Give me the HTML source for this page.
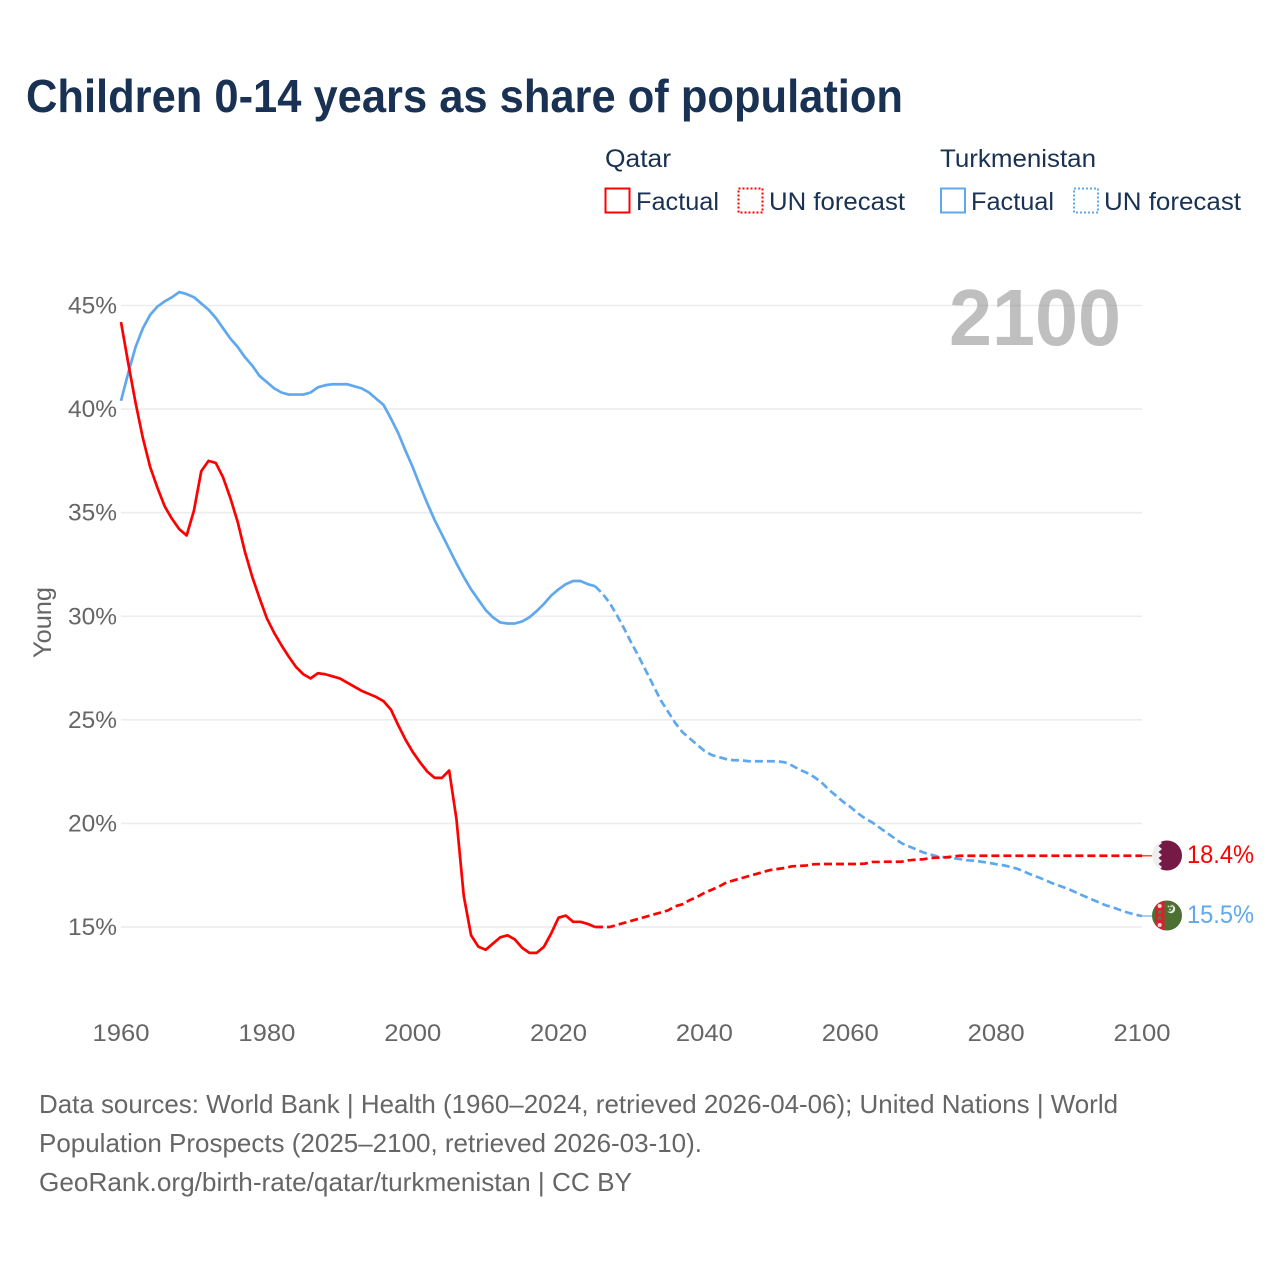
<!DOCTYPE html>
<html lang="en">
<head>
<meta charset="utf-8">
<title>Children 0-14 years as share of population</title>
<style>
html,body{margin:0;padding:0;background:#fff;}
svg{display:block;}
text{font-family:"Liberation Sans",sans-serif;}
</style>
</head>
<body>
<svg id="chart" width="1280" height="1280" viewBox="0 0 1280 1280" xmlns="http://www.w3.org/2000/svg">
  <rect width="1280" height="1280" fill="#ffffff"/>
  <text x="26" y="112" font-size="46" font-weight="700" fill="#193152" textLength="877" lengthAdjust="spacingAndGlyphs">Children 0-14 years as share of population</text>

  <g font-size="25" fill="#193152">
    <text x="605" y="167" textLength="66" lengthAdjust="spacingAndGlyphs">Qatar</text>
    <rect x="605.5" y="188.5" width="24" height="24" fill="none" stroke="#ff0000" stroke-width="2"/>
    <text x="636" y="210" textLength="83" lengthAdjust="spacingAndGlyphs">Factual</text>
    <rect x="738.5" y="188.5" width="24" height="24" fill="none" stroke="#ff0000" stroke-width="2" stroke-dasharray="2 2"/>
    <text x="769" y="210" textLength="136" lengthAdjust="spacingAndGlyphs">UN forecast</text>
    <text x="940" y="167" textLength="156" lengthAdjust="spacingAndGlyphs">Turkmenistan</text>
    <rect x="941" y="188.5" width="24" height="24" fill="none" stroke="#60a8ee" stroke-width="2"/>
    <text x="971" y="210" textLength="83" lengthAdjust="spacingAndGlyphs">Factual</text>
    <rect x="1074" y="188.5" width="24" height="24" fill="none" stroke="#60a8ee" stroke-width="2" stroke-dasharray="2 2"/>
    <text x="1104" y="210" textLength="137" lengthAdjust="spacingAndGlyphs">UN forecast</text>
  </g>

  <g id="grid"></g>
  <g id="y-labels"></g>
  <g id="x-labels"></g>

  <text transform="translate(51,622.5) rotate(-90)" text-anchor="middle" font-size="25" fill="#666666" textLength="71" lengthAdjust="spacingAndGlyphs">Young</text>
  <text x="949" y="345" font-size="80" font-weight="700" fill="#808080" fill-opacity="0.5" textLength="172" lengthAdjust="spacingAndGlyphs">2100</text>

  <g id="series"></g>

  <defs>
    <clipPath id="flag-clip-qatar"><circle cx="1167" cy="855.5" r="15"/></clipPath>
    <clipPath id="flag-clip-turkmenistan"><circle cx="1167" cy="915.5" r="15"/></clipPath>
  </defs>

  <g clip-path="url(#flag-clip-qatar)">
    <rect x="1152" y="840" width="30" height="31" fill="#eeeeee"/>
    <polygon points="1182,840 1158.5,840 1162,843 1158.5,846 1162,849 1158.5,852 1162,855 1158.5,858 1162,861 1158.5,864 1162,867 1158.5,871 1182,871" fill="#761a45"/>
  </g>
  <g clip-path="url(#flag-clip-turkmenistan)">
    <rect x="1152" y="900" width="30" height="31" fill="#4d7032"/>
    <rect x="1155" y="900" width="9.5" height="31" fill="#d9202f"/>
    <circle cx="1159.7" cy="906" r="2" fill="#f3d9d9"/>
    <circle cx="1159.7" cy="912" r="1.8" fill="#5a7a40"/>
    <circle cx="1159.7" cy="918" r="1.8" fill="#5a7a40"/>
    <circle cx="1159.7" cy="925" r="2" fill="#f3d9d9"/>
    <circle cx="1171" cy="909" r="4.2" fill="#e6ece0"/>
    <circle cx="1169.4" cy="908.2" r="3.6" fill="#4d7032"/>
    <circle cx="1168.5" cy="906.5" r="0.9" fill="#e6ece0"/>
    <circle cx="1171" cy="906.5" r="0.9" fill="#e6ece0"/>
    <circle cx="1170" cy="909.5" r="0.9" fill="#e6ece0"/>
  </g>

  <text x="1187" y="863" font-size="25" fill="#ff0000" textLength="67" lengthAdjust="spacingAndGlyphs">18.4%</text>
  <text x="1187" y="923" font-size="25" fill="#60a8ee" textLength="67" lengthAdjust="spacingAndGlyphs">15.5%</text>

  <g font-size="26" fill="#666666">
    <text x="39" y="1113" textLength="1079" lengthAdjust="spacingAndGlyphs">Data sources: World Bank | Health (1960–2024, retrieved 2026-04-06); United Nations | World</text>
    <text x="39" y="1152" textLength="663" lengthAdjust="spacingAndGlyphs">Population Prospects (2025–2100, retrieved 2026-03-10).</text>
    <text x="39" y="1191" textLength="593" lengthAdjust="spacingAndGlyphs">GeoRank.org/birth-rate/qatar/turkmenistan | CC BY</text>
  </g>
</svg>

<script>
var yTicks = [15, 20, 25, 30, 35, 40, 45];
var xTicks = [1960, 1980, 2000, 2020, 2040, 2060, 2080, 2100];

var factualStartYear = 1960;
var forecastStartYear = 2025;

var qatarFactual = [
  44.2, 42.2, 40.3, 38.6, 37.2, 36.2, 35.3, 34.7, 34.2, 33.9,
  35.1, 37.0, 37.5, 37.4, 36.7, 35.7, 34.55, 33.1, 31.9, 30.87,
  29.9, 29.2, 28.6, 28.05, 27.55, 27.2, 27.0, 27.25, 27.2, 27.1,
  27.0, 26.8, 26.6, 26.4, 26.25, 26.1, 25.9, 25.5, 24.75, 24.05,
  23.45, 22.95, 22.5, 22.2, 22.2, 22.55, 20.2, 16.5, 14.6, 14.05,
  13.9, 14.2, 14.5, 14.6, 14.4, 14.0, 13.75, 13.75, 14.05, 14.7,
  15.45, 15.55, 15.25, 15.25, 15.15, 15.0
];

var qatarForecast = [
  15.0, 15.0, 15.0, 15.1, 15.2, 15.3, 15.4, 15.5, 15.6, 15.7,
  15.8, 16.0, 16.1, 16.3, 16.45, 16.65, 16.8, 16.95, 17.15, 17.25,
  17.35, 17.45, 17.55, 17.65, 17.75, 17.8, 17.85, 17.93, 17.95, 17.97,
  18.03, 18.04, 18.04, 18.04, 18.04, 18.04, 18.04, 18.06, 18.14, 18.14,
  18.15, 18.15, 18.15, 18.22, 18.25, 18.27, 18.33, 18.35, 18.36, 18.4,
  18.44, 18.44, 18.44, 18.44, 18.44, 18.44, 18.44, 18.44, 18.44, 18.44,
  18.44, 18.44, 18.44, 18.44, 18.44, 18.44, 18.44, 18.44, 18.44, 18.44,
  18.44, 18.44, 18.44, 18.44, 18.44, 18.44
];

var turkmenistanFactual = [
  40.4, 41.75, 43.0, 43.9, 44.55, 44.95, 45.2, 45.4, 45.65, 45.55,
  45.4, 45.1, 44.8, 44.4, 43.9, 43.4, 43.0, 42.5, 42.1, 41.6,
  41.3, 41.0, 40.8, 40.7, 40.7, 40.7, 40.8, 41.05, 41.15, 41.2,
  41.2, 41.2, 41.1, 41.0, 40.8, 40.5, 40.2, 39.55, 38.85, 38.0,
  37.2, 36.3, 35.45, 34.65, 33.95, 33.25, 32.55, 31.9, 31.3, 30.8,
  30.3, 29.95, 29.7, 29.65, 29.65, 29.75, 29.95, 30.25, 30.6, 31.0,
  31.3, 31.55, 31.7, 31.7, 31.55, 31.45
];

var turkmenistanForecast = [
  31.45, 31.1, 30.65, 30.05, 29.4, 28.7, 28.05, 27.35, 26.65, 25.95,
  25.4, 24.85, 24.4, 24.1, 23.8, 23.5, 23.3, 23.2, 23.1, 23.05,
  23.05, 23.0, 23.0, 23.0, 23.0, 23.0, 22.95, 22.8, 22.6, 22.45,
  22.25, 22.0, 21.65, 21.35, 21.05, 20.8, 20.5, 20.25, 20.05, 19.8,
  19.55, 19.3, 19.05, 18.9, 18.75, 18.6, 18.5, 18.4, 18.37, 18.33,
  18.28, 18.22, 18.2, 18.15, 18.1, 18.03, 17.98, 17.9, 17.8, 17.65,
  17.5, 17.37, 17.22, 17.07, 16.95, 16.82, 16.66, 16.5, 16.35, 16.2,
  16.05, 15.95, 15.82, 15.7, 15.6, 15.53
];

var SVG_NS = 'http://www.w3.org/2000/svg';

function xScale(year) {
  return 121 + (year - 1960) * (1142 - 121) / 140;
}
function yScale(pct) {
  return 927 - (pct - 15) * (927 - 305.5) / 30;
}
function make(tag, parent, attrs) {
  var el = document.createElementNS(SVG_NS, tag);
  for (var k in attrs) el.setAttribute(k, attrs[k]);
  parent.appendChild(el);
  return el;
}
function linePath(values, startYear) {
  var d = '';
  for (var i = 0; i < values.length; i++) {
    d += (i === 0 ? 'M' : 'L') + xScale(startYear + i).toFixed(2) + ' ' + yScale(values[i]).toFixed(2);
  }
  return d;
}

var gridGroup = document.getElementById('grid');
var yLabelGroup = document.getElementById('y-labels');
var xLabelGroup = document.getElementById('x-labels');
var seriesGroup = document.getElementById('series');

yTicks.forEach(function (t) {
  var line = make('line', gridGroup, {
    x1: xScale(1960), x2: xScale(2100), y1: yScale(t), y2: yScale(t),
    stroke: '#ececec', 'stroke-width': 1.6
  });
  
  

  var label = make('text', yLabelGroup, {
    x: 68, y: yScale(t) + 8, 'font-size': 24, fill: '#666666',
    textLength: 49, lengthAdjust: 'spacingAndGlyphs'
  });
  label.textContent = t + '%';
  
  
});

xTicks.forEach(function (t) {
  var label = make('text', xLabelGroup, {
    x: xScale(t) - 28.5, y: 1041, 'font-size': 24, fill: '#666666',
    textLength: 57, lengthAdjust: 'spacingAndGlyphs'
  });
  label.textContent = String(t);
  
  
});

function endConnector(values, color, name) {
  var last = values[values.length - 1];
  var c = make('line', seriesGroup, {
    x1: xScale(2100), x2: 1153, y1: yScale(last), y2: yScale(last),
    stroke: color, 'stroke-width': 1.6, 'stroke-opacity': 0.7
  });
  
  
}

endConnector(turkmenistanForecast, '#60a8ee', 'connector-turkmenistan');
endConnector(qatarForecast, '#ff0000', 'connector-qatar');

var turkFactualLine = make('path', seriesGroup, {
  d: linePath(turkmenistanFactual, factualStartYear),
  fill: 'none', stroke: '#60a8ee', 'stroke-width': 2.7, 'stroke-linejoin': 'round'
});



var turkForecastLine = make('path', seriesGroup, {
  d: linePath(turkmenistanForecast, forecastStartYear),
  fill: 'none', stroke: '#60a8ee', 'stroke-width': 2.7, 'stroke-dasharray': '8 4'
});



var qatarFactualLine = make('path', seriesGroup, {
  d: linePath(qatarFactual, factualStartYear),
  fill: 'none', stroke: '#ff0000', 'stroke-width': 2.7, 'stroke-linejoin': 'round'
});



var qatarForecastLine = make('path', seriesGroup, {
  d: linePath(qatarForecast, forecastStartYear),
  fill: 'none', stroke: '#ff0000', 'stroke-width': 2.7, 'stroke-dasharray': '8 4'
});


</script>
</body>
</html>
